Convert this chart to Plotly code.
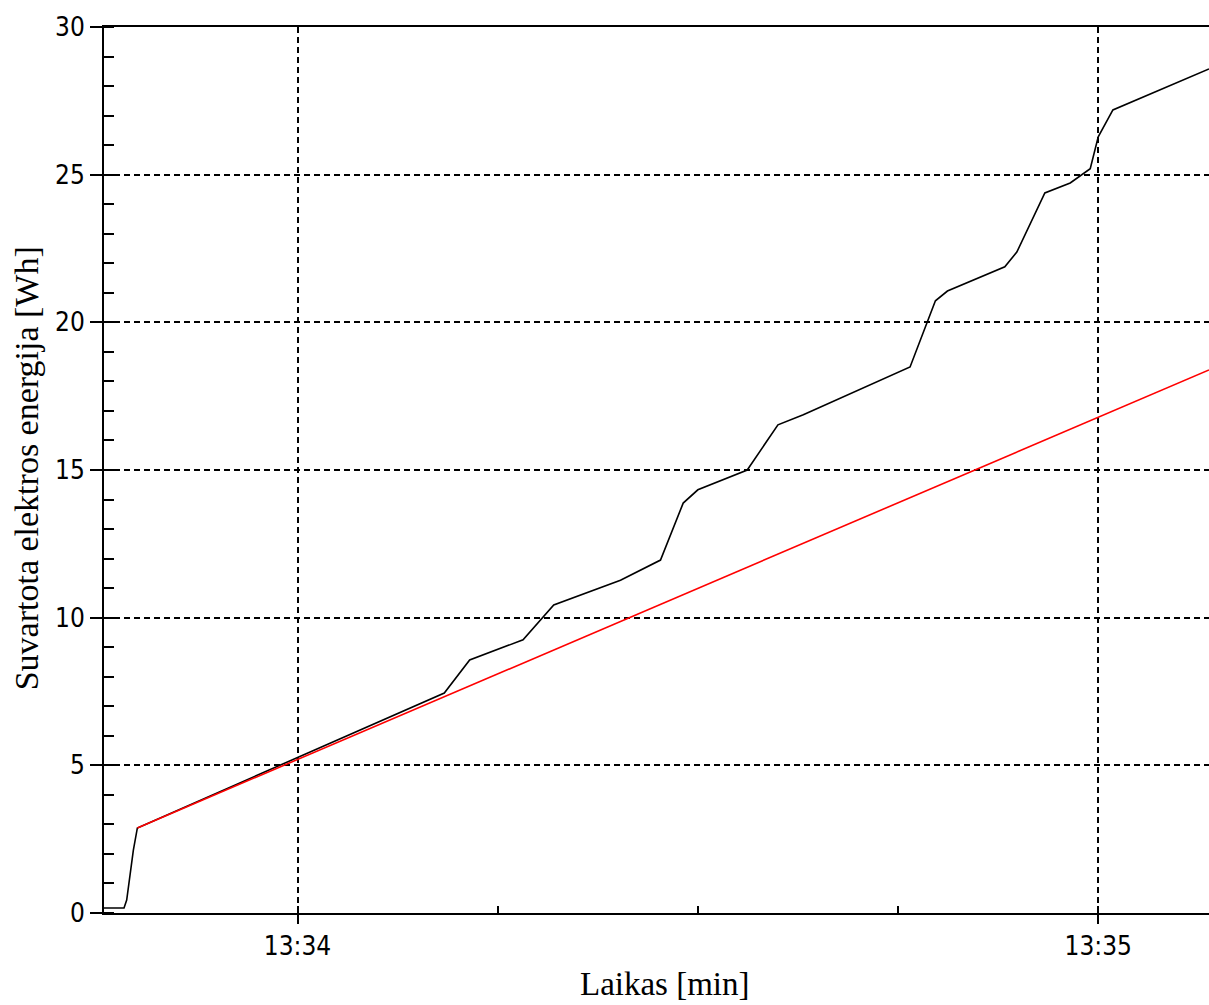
import plotly.graph_objects as go

# Measured cumulative energy (black) and the linear reference trend (red)
meas_time = ["13:33:45.5", "13:33:47.0", "13:33:47.2", "13:33:47.7", "13:33:48.0",
             "13:34:11.0", "13:34:12.9", "13:34:16.9", "13:34:19.2", "13:34:24.2",
             "13:34:27.2", "13:34:28.9", "13:34:30.0", "13:34:33.7", "13:34:36.0",
             "13:34:37.9", "13:34:45.9", "13:34:47.8", "13:34:48.7", "13:34:53.0",
             "13:34:53.9", "13:34:56.0", "13:34:57.9", "13:34:59.4", "13:35:00.0",
             "13:35:01.1", "13:35:08.3"]
meas_energy = [0.17, 0.17, 0.44, 2.13, 2.88,
               7.45, 8.57, 9.25, 10.43, 11.27,
               11.95, 13.88, 14.33, 15.00, 16.53,
               16.87, 18.49, 20.73, 21.06, 21.88,
               22.38, 24.38, 24.72, 25.2, 26.28,
               27.19, 28.58]

trend_time = ["13:33:48.0", "13:35:08.3"]
trend_energy = [2.88, 18.39]

x_tick_labels = ["13:34", "13:35"]
x_range = ["13:33:45.5", "13:35:08.3"]
y_tick_values = [0, 5, 10, 15, 20, 25, 30]


def to_seconds(hms):
    h, m, s = hms.split(":")
    return int(h) * 3600 + int(m) * 60 + float(s)


mx = [to_seconds(t) for t in meas_time]
tx = [to_seconds(t) for t in trend_time]
x_tick_vals = [to_seconds(t + ":00") for t in x_tick_labels]

fig = go.Figure()
fig.add_trace(go.Scatter(x=mx, y=meas_energy, mode="lines",
                         line=dict(color="black", width=1.6), showlegend=False))
fig.add_trace(go.Scatter(x=tx, y=trend_energy, mode="lines",
                         line=dict(color="#ff0000", width=1.6), showlegend=False))

tick_font = dict(family="DejaVu Sans Condensed, Liberation Sans Narrow, sans-serif",
                 size=26, color="black")
x_title_font = dict(family="Liberation Serif, Times New Roman, serif", size=33, color="black")
y_title_font = dict(family="Liberation Serif, Times New Roman, serif", size=34, color="black")

fig.update_xaxes(
    range=[to_seconds(x_range[0]), to_seconds(x_range[1])],
    tickmode="array", tickvals=x_tick_vals, ticktext=x_tick_labels,
    ticks="outside", ticklen=9, tickwidth=2, tickcolor="black",
    tickfont=tick_font,
    showline=True, linecolor="black", linewidth=2, mirror=True,
    showgrid=True, gridcolor="black", gridwidth=1.5, griddash="6px,4px",
    zeroline=False,
    minor=dict(tickmode="linear", tick0=x_tick_vals[0], dtick=15,
               ticks="inside", ticklen=7, tickwidth=1.5, tickcolor="black",
               showgrid=False),
)
fig.update_yaxes(
    range=[0, 30],
    tickmode="array", tickvals=y_tick_values,
    ticks="outside", ticklen=12, tickwidth=2, tickcolor="black",
    tickfont=tick_font,
    showline=True, linecolor="black", linewidth=2,
    showgrid=True, gridcolor="black", gridwidth=1.5, griddash="6px,4px",
    zeroline=False,
    minor=dict(tickmode="linear", tick0=0, dtick=1,
               ticks="inside", ticklen=10, tickwidth=2, tickcolor="black",
               showgrid=False),
)

fig.update_layout(
    width=1209, height=1005,
    margin=dict(l=104, r=0, t=27, b=92),
    paper_bgcolor="white", plot_bgcolor="white",
    annotations=[
        dict(text="Laikas [min]", xref="paper", yref="paper",
             x=0.5077, y=-0.0802, xanchor="center", yanchor="middle",
             showarrow=False, font=x_title_font),
        dict(text="Suvartota elektros energija [Wh]", xref="paper", yref="paper",
             x=-0.0705, y=0.502, xanchor="center", yanchor="middle",
             textangle=-90, showarrow=False, font=y_title_font),
    ],
)

fig.write_html("out.html")
